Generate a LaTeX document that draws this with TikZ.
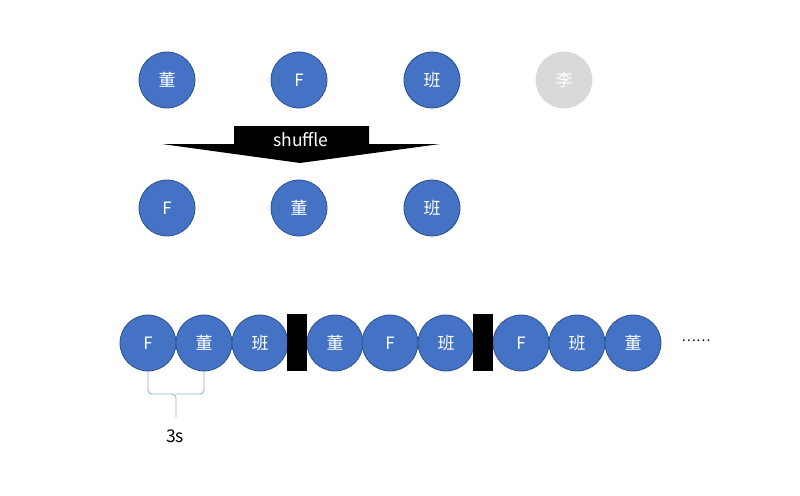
\documentclass[tikz,border=0pt]{standalone}
\usepackage{fontspec}
\setmainfont{Noto Sans CJK SC}
\usetikzlibrary{positioning}
\definecolor{ballblue}{HTML}{4472C4}
\definecolor{balledge}{HTML}{2F528F}
\definecolor{ballgrey}{HTML}{D9D9D9}
\definecolor{bracecol}{HTML}{8FAADC}
\tikzset{
  ball/.style={circle,fill=ballblue,draw=balledge,line width=0.8pt,minimum size=56pt,
    inner sep=0pt,text=white,font=\fontsize{17}{17}\selectfont},
  greyball/.style={ball,fill=ballgrey,draw=ballgrey},
  sepbar/.style={fill=black,minimum width=20pt,minimum height=57pt,inner sep=0pt},
  bracket/.style={draw=bracecol,line width=0.8pt,rounded corners=4pt}
}
\begin{document}
\begin{tikzpicture}[x=1pt,y=-1pt]
  \useasboundingbox (0,0) rectangle (800,495);
  % players before
  \node[ball] (t1) at (167,80) {董};
  \node[ball] (t2) at (299,80) {F};
  \node[ball] (t3) at (432,80) {班};
  \node[greyball] (t4) at (564,80) {李};
  % shuffle arrow
  \fill (234,126) -- (369,126) -- (369,144) -- (440,144) -- (300,163)
        -- (162,144) -- (234,144) -- cycle;
  \node[text=white,font=\fontsize{17.5}{17.5}\selectfont] (shuf) at (301,140) {shuffle};
  % players after
  \node[ball] (s1) at (167,208) {F};
  \node[ball] (s2) at (299,208) {董};
  \node[ball] (s3) at (432,208) {班};
  % the queue
  \foreach \name/\lab/\x in {q1/F/148,q2/董/204,q3/班/260,q4/董/335,q5/F/390,
      q6/班/446,q7/F/521,q8/班/577,q9/董/633}
    \node[ball] (\name) at (\x,343) {\lab};
  \node[sepbar] (bar1) at (297,342.5) {};
  \node[sepbar] (bar2) at (483,342.5) {};
  \node[font=\fontsize{13.5}{13.5}\selectfont] (more) at (696,341) {……};
  % gap
  \coordinate (bmid) at (176,394);
  \draw[bracket] (q1.south) |- (bmid) -- (176,417);
  \draw[bracket] (q2.south) |- (bmid);
  \node[font=\fontsize{17.5}{17.5}\selectfont] (gap) at (175,436) {3s};
\end{tikzpicture}
\end{document}
